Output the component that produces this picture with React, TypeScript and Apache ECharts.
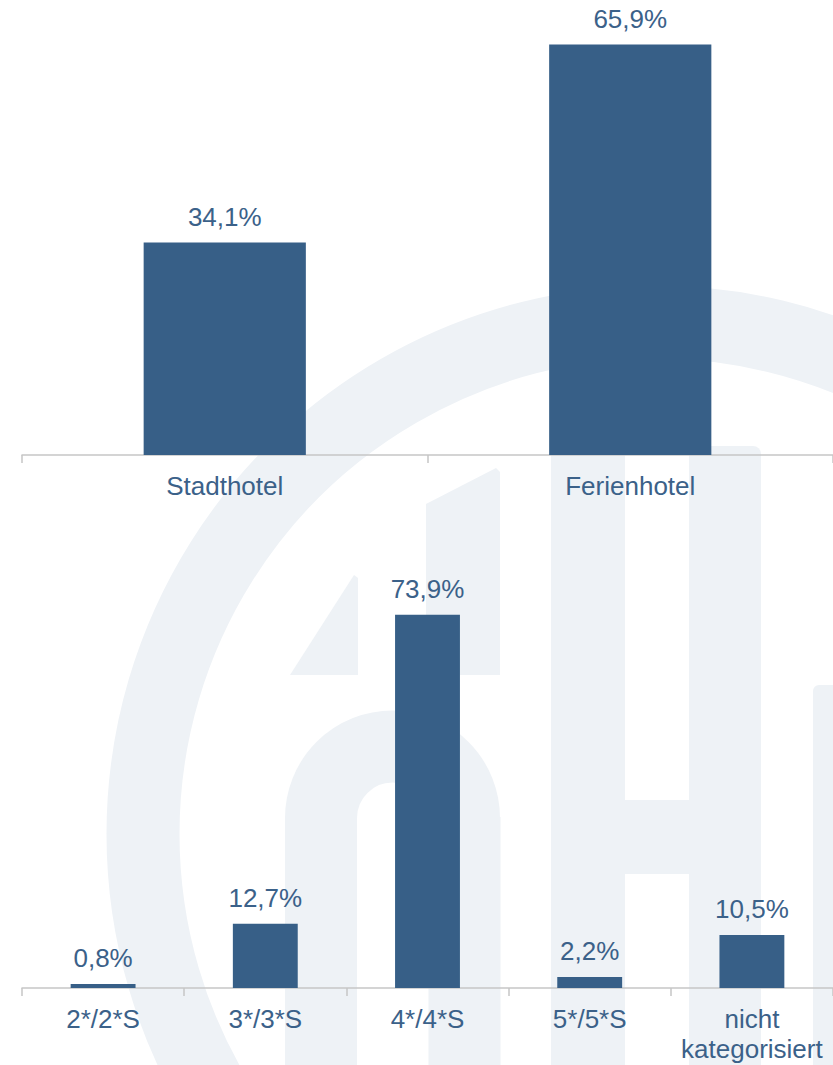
import React, { useEffect, useRef } from "react";
import * as echarts from "echarts";

const typeCategories = ["Stadthotel", "Ferienhotel"];
const typeValues = [34.1, 65.9];
const starCategories = ["2*/2*S", "3*/3*S", "4*/4*S", "5*/5*S", "nicht\nkategorisiert"];
const starValues = [0.8, 12.7, 73.9, 2.2, 10.5];

const BAR = "#375f87";
const TEXT = "#3b6189";
const AXIS = "#c6c6c6";
const WM = "#eef2f6";
const FONT = "'Liberation Sans', Arial, sans-serif";

const fmt = (p: any) => `${Number(p.value).toFixed(1).replace(".", ",")}%`;

export default function App() {
  const ref = useRef<HTMLDivElement>(null);
  useEffect(() => {
    if (!ref.current) return;
    const chart = echarts.init(ref.current, undefined, { renderer: "svg" });
    const xAxisBase = (gridIndex: number, data: string[]) => ({
      type: "category",
      gridIndex,
      data,
      boundaryGap: true,
      axisLine: { show: true, lineStyle: { color: AXIS, width: 1.5 } },
      axisTick: { show: true, length: 8, lineStyle: { color: AXIS, width: 1.5 } },
      axisLabel: {
        color: TEXT,
        fontSize: 26,
        fontFamily: FONT,
        lineHeight: 30,
        margin: 16,
        interval: 0,
      },
      splitLine: { show: false },
    });
    const yAxisBase = (gridIndex: number, max: number) => ({
      type: "value",
      gridIndex,
      min: 0,
      max,
      show: false,
      splitLine: { show: false },
    });
    const labelCfg = {
      show: true,
      position: "top",
      distance: 13,
      color: TEXT,
      fontSize: 26,
      fontFamily: FONT,
      formatter: fmt,
    };
    chart.setOption({
      animation: false,
      backgroundColor: "#ffffff",
      graphic: {
        z: -10,
        elements: [
          {
            type: "circle",
            z: -10,
            silent: true,
            shape: { cx: 655, cy: 834, r: 512 },
            style: { fill: "none", stroke: WM, lineWidth: 73 },
          },
          {
            type: "arc",
            z: -10,
            silent: true,
            shape: { cx: 392.5, cy: 818, r: 71.5, startAngle: Math.PI, endAngle: Math.PI * 2, clockwise: true },
            style: { fill: "none", stroke: WM, lineWidth: 72 },
          },
          { type: "rect", z: -10, silent: true, shape: { x: 285, y: 817, width: 72, height: 260 }, style: { fill: WM } },
          { type: "rect", z: -10, silent: true, shape: { x: 428.5, y: 817, width: 72, height: 260 }, style: { fill: WM } },
          {
            type: "polygon",
            z: -10,
            silent: true,
            shape: { points: [[290, 675], [354, 575], [358, 578], [358, 675]] },
            style: { fill: WM },
          },
          {
            type: "polygon",
            z: -10,
            silent: true,
            shape: { points: [[426, 504], [496, 468], [500, 472], [500, 675], [426, 675]] },
            style: { fill: WM },
          },
          { type: "rect", z: -10, silent: true, shape: { x: 551, y: 446, width: 74, height: 630, r: [0, 6, 0, 0] }, style: { fill: WM } },
          { type: "rect", z: -10, silent: true, shape: { x: 689, y: 446, width: 72, height: 630, r: [0, 8, 0, 0] }, style: { fill: WM } },
          { type: "rect", z: -10, silent: true, shape: { x: 624, y: 800, width: 66, height: 74 }, style: { fill: WM } },
          { type: "rect", z: -10, silent: true, shape: { x: 813, y: 685, width: 40, height: 400, r: [6, 0, 0, 0] }, style: { fill: WM } },
        ],
      },
      grid: [
        { left: 22, top: 19, width: 814, height: 436, containLabel: false },
        { left: 22, top: 584, width: 814, height: 404, containLabel: false },
      ],
      xAxis: [xAxisBase(0, typeCategories), xAxisBase(1, starCategories)],
      yAxis: [yAxisBase(0, 70), yAxisBase(1, 80)],
      series: [
        {
          type: "bar",
          xAxisIndex: 0,
          yAxisIndex: 0,
          data: typeValues,
          barWidth: "40%",
          itemStyle: { color: BAR },
          label: labelCfg,
          z: 5,
        },
        {
          type: "bar",
          xAxisIndex: 1,
          yAxisIndex: 1,
          data: starValues,
          barWidth: "40%",
          itemStyle: { color: BAR },
          label: labelCfg,
          z: 5,
        },
      ],
    });
    return () => chart.dispose();
  }, []);
  return (
    <div
      ref={ref}
      style={{ position: "fixed", left: 0, top: 0, width: 833, height: 1065, overflow: "hidden", background: "#fff" }}
    />
  );
}
